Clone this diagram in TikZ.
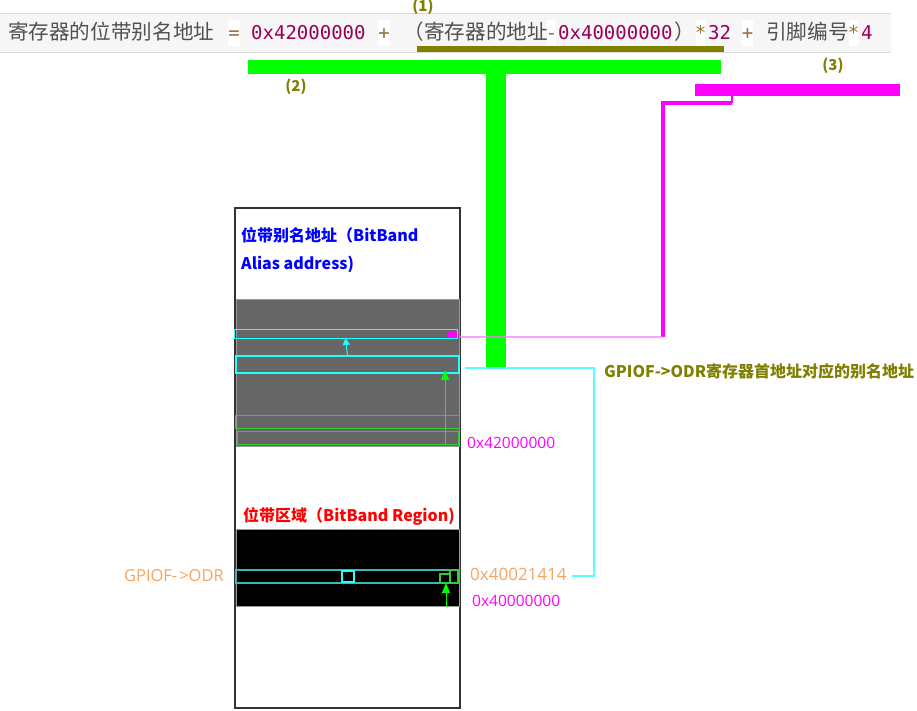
\documentclass[tikz,border=0pt]{standalone}
\usepackage{fontspec}
\setmainfont{Noto Sans CJK SC}
\newfontfamily\cjk{Noto Sans CJK SC}
\newfontfamily\mono{DejaVu Sans Mono}
\newfontfamily\lat{Open Sans}
\usetikzlibrary{arrows.meta}
\definecolor{barbg}{HTML}{F6F6F6}
\definecolor{barline}{HTML}{DCDCDC}
\definecolor{fgray}{HTML}{505050}
\definecolor{fhexc}{HTML}{990055}
\definecolor{fopc}{HTML}{9A6D3A}
\definecolor{oliv}{HTML}{808000}
\definecolor{tgreen}{HTML}{00FF00}
\definecolor{mag}{HTML}{FF00FF}
\definecolor{lpink}{HTML}{FF77FF}
\definecolor{cyn}{HTML}{22FFFF}
\definecolor{lcyn}{HTML}{55FFFF}
\definecolor{teal2}{HTML}{3DB8B0}
\definecolor{rowgreen}{HTML}{33CC33}
\definecolor{memgray}{HTML}{666666}
\definecolor{edgegray}{HTML}{999999}
\definecolor{outl}{HTML}{333333}
\definecolor{orng}{HTML}{F4A460}
\tikzset{
  ftext/.style={font=\cjk\fontsize{20.6}{24}\selectfont, text=fgray, anchor=base west, inner sep=0pt},
  fhex/.style={font=\mono\fontsize{19}{22}\selectfont, text=fhexc, anchor=base west, inner sep=0pt},
  fop/.style={font=\mono\fontsize{19}{22}\selectfont, text=fopc, anchor=base, inner sep=0pt},
  opbg/.style={fill=white},
  numlbl/.style={font=\cjk\bfseries\fontsize{15}{18}\selectfont, text=oliv, anchor=base, inner sep=0pt},
  titlelbl/.style={font=\cjk\bfseries\fontsize{16}{19}\selectfont, anchor=base west, inner sep=0pt},
  hexlbl/.style={font=\lat\fontsize{15.5}{18}\selectfont, inner sep=0pt},
  region/.style={minimum width=223pt, inner sep=0pt, outer sep=0pt},
  rowbox/.style={inner sep=0pt, outer sep=0pt},
  cyanarr/.style={draw=cyn, line width=1pt, -{Triangle[length=7pt, width=7pt]}},
  greenarr/.style={draw=tgreen, line width=1pt, -{Triangle[length=10pt, width=8pt]}},
}
\begin{document}
\begin{tikzpicture}[x=1pt, y=-1pt]
\useasboundingbox (0,0) rectangle (917,710);
% formula bar
\fill[barbg] (0,13) rectangle (891,53);
\draw[barline] (0,13.5) -- (891,13.5) (0,52.5) -- (891,52.5);
\foreach \a/\b in {228/240, 378/390, 547/556, 696/705, 742/753, 849/858}
  \fill[opbg] (\a,20) rectangle (\b,46);
\node[ftext] (f1) at (8,39.5) {寄存器的位带别名地址};
\node[fop] (f2) at (234,39.5) {=};
\node[fhex] (f3) at (251,39.5) {0x42000000};
\node[fop] (f4) at (384,39.5) {+};
\node[ftext, anchor=base east] (f5) at (548,39.5) {（寄存器的地址};
\node[fop] (f6) at (551.5,39.5) {-};
\node[fhex] (f7) at (558,39.5) {0x40000000};
\node[ftext] (f8) at (674,39.5) {）};
\node[fop] (f9) at (700.5,39.5) {*};
\node[fhex] (f10) at (708,39.5) {32};
\node[fop] (f11) at (747.5,39.5) {+};
\node[ftext] (f12) at (766,39.5) {引脚编号};
\node[fop] (f13) at (853.5,39.5) {*};
\node[fhex] (f14) at (861,39.5) {4};
% (1) underline
\fill[oliv] (417,46) rectangle (724,52);
\node[numlbl] (n1) at (423,11.5) {(1)};
% green T
\fill[tgreen] (248,60) rectangle (721,74);
\fill[tgreen] (486,73) rectangle (506,367);
\node[numlbl] (n2) at (296,91.5) {(2)};
% magenta bar
\node[rowbox, fill=mag, minimum width=205pt, minimum height=12pt] (bar3) at (797.5,90) {};
\node[numlbl] (n3) at (833,70.5) {(3)};
% memory box
\node[draw=outl, line width=2pt, fill=white, minimum width=225pt, minimum height=500pt, inner sep=0pt, outer sep=0pt] (mem) at (347.5,458) {};
\node[region, fill=memgray, draw=edgegray, line width=0.8pt, minimum height=147pt] (alias) at (347.5,372.5) {};
\node[titlelbl, text=blue] (t1) at (241,241.5) {位带别名地址（BitBand};
\node[titlelbl, text=blue] (t2) at (241,269.5) {Alias address)};
\node[rowbox, draw=cyn, line width=1pt, minimum width=223pt, minimum height=9pt] (thinrow) at (345.5,333.5) {};
\node[rowbox, fill=mag, minimum width=10pt, minimum height=6pt] (pinksq) at (452,335) {};
\node[rowbox, draw=cyn, line width=2.5pt, minimum width=223pt, minimum height=17pt] (aliasrow) at (347.5,364.5) {};
\node[rowbox, draw=rowgreen, line width=1pt, minimum width=224pt, minimum height=13pt] (grow1) at (347,421.5) {};
\node[rowbox, draw=rowgreen, line width=1pt, minimum width=221pt, minimum height=13pt] (grow2) at (347.5,437.5) {};
\draw[cyanarr] (aliasrow.north) -- (thinrow.south);
\coordinate (ga1) at (445,445);
\draw[greenarr] (ga1) -- ([yshift=3pt]ga1 |- aliasrow.south);
\node[hexlbl, text=mag, anchor=base west] (h1) at (467,448) {0x42000000};
% bitband region
\node[titlelbl, text=red] (t3) at (243,521) {位带区域（BitBand Region)};
\node[region, fill=black, draw=edgegray, line width=0.8pt, minimum height=77pt] (bbr) at (347.5,567.5) {};
\node[rowbox, draw=teal2, line width=2pt, minimum width=223pt, minimum height=13pt] (odrrow) at (347.5,576.5) {};
\node[rowbox, draw=cyn, line width=1.5pt, minimum width=12pt, minimum height=11pt] (csq) at (348,576.5) {};
\node[rowbox, draw=rowgreen, line width=1.2pt, minimum width=10pt, minimum height=9pt] (gsq1) at (445,578.5) {};
\node[rowbox, draw=rowgreen, line width=1.2pt, minimum width=8pt, minimum height=13pt] (gsq2) at (454,576.5) {};
\coordinate (ga2) at (446,607);
\draw[greenarr] (ga2) -- (ga2 |- gsq1.south);
\node[hexlbl, text=orng, anchor=base east, font=\lat\fontsize{16.5}{19}\selectfont] (odrl) at (224,581.5) {GPIOF-\kern2pt>ODR};
\node[hexlbl, text=orng, anchor=base west, font=\lat\fontsize{17}{20}\selectfont] (h2) at (470,580.5) {0x40021414};
\node[hexlbl, text=mag, anchor=base west] (h3) at (472,606.5) {0x40000000};
\node[titlelbl, text=oliv] (t4) at (604,377) {GPIOF->ODR寄存器首地址对应的别名地址};
% cyan connector
\coordinate (c1) at (465,368);
\coordinate (c2) at (594,368);
\coordinate (c3) at (594,576);
\coordinate (c4) at (572,576);
\draw[lcyn, line width=2.5pt] (c1) -- (c2) -- (c3) -- (c4);
% magenta connector
\coordinate (m1) at (732,103);
\coordinate (m2) at (663,103);
\coordinate (m3) at (663,337);
\coordinate (m4) at (460,337);
\draw[mag, line width=2.5pt] (bar3.south -| m1) -- (m1);
\draw[mag, line width=4pt] (m1) -- (m2) -- (m3);
\draw[lpink, line width=2.5pt, opacity=0.7] (m3) -- (m4);
\end{tikzpicture}
\end{document}
